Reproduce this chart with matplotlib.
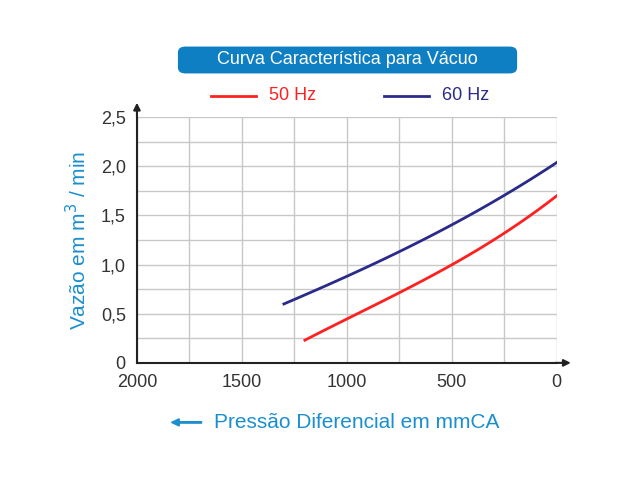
import numpy as np
import matplotlib
matplotlib.use("Agg")
from matplotlib import pyplot as plt
from matplotlib.patches import FancyBboxPatch, FancyArrow

plt.rcParams['font.family'] = ['Liberation Sans', 'DejaVu Sans']

# data
x50 = [1200, 1000, 750, 500, 250, 0]
y50 = [0.23, 0.45, 0.71, 1.00, 1.32, 1.70]
x60 = [1300, 1000, 750, 500, 250, 0]
y60 = [0.60, 0.88, 1.13, 1.41, 1.70, 2.04]
xticks = [2000, 1500, 1000, 500, 0]
yticks = [0, 0.5, 1.0, 1.5, 2.0, 2.5]
ylabels = ["0", "0,5", "1,0", "1,5", "2,0", "2,5"]

blue = "#1a8fd0"
fig = plt.figure(figsize=(6.4, 4.8), dpi=100)
ax = fig.add_axes([0.214, 0.244, 0.656, 0.512])

def smooth(x, y):
    xs = np.linspace(x[0], x[-1], 100)
    c = np.polyfit(x, y, 3)
    return xs, np.polyval(c, xs)

ax.plot(*smooth(x50, y50), color="#ff2020", lw=2)
ax.plot(*smooth(x60, y60), color="#2a2a8a", lw=2)

ax.set_xlim(2000, 0)
ax.set_ylim(0, 2.5)
ax.set_xticks(np.arange(0, 2001, 250), minor=True)
ax.set_yticks(np.arange(0, 2.51, 0.25), minor=True)
ax.set_xticks(xticks)
ax.set_yticks(yticks)
ax.set_yticklabels(ylabels)
ax.grid(which="both", color="#c8c8c8", lw=1)
ax.tick_params(which="both", length=0, labelsize=13, colors="#333333", pad=8)
for s in ["top", "right"]:
    ax.spines[s].set_visible(False)
for s in ["left", "bottom"]:
    ax.spines[s].set_color("#222222")
    ax.spines[s].set_linewidth(1.5)
ax.annotate("", xy=(0, 1.07), xytext=(0, 0.99), xycoords="axes fraction",
            arrowprops=dict(arrowstyle="-|>", color="#222222", lw=1.5))
ax.annotate("", xy=(1.04, 0), xytext=(0.99, 0), xycoords="axes fraction",
            arrowprops=dict(arrowstyle="-|>", color="#222222", lw=1.5))

ax.set_ylabel("Vazão em m$^3$ / min", color=blue, fontsize=15, labelpad=8)

fig.add_artist(FancyBboxPatch((0.278, 0.847), 0.53, 0.056, transform=fig.transFigure,
                              boxstyle="round,pad=0,rounding_size=0.012",
                              fc="#0f7fc4", ec="none"))
fig.text(0.543, 0.875, "Curva Característica para Vácuo", ha="center", va="center",
         color="white", fontsize=13)

fig.add_artist(plt.Line2D([0.33, 0.40], [0.80, 0.80], color="#ff2020", lw=2))
fig.text(0.42, 0.80, "50 Hz", color="#ff2020", fontsize=13, va="center")
fig.add_artist(plt.Line2D([0.60, 0.67], [0.80, 0.80], color="#2a2a8a", lw=2))
fig.text(0.69, 0.80, "60 Hz", color="#2a2a8a", fontsize=13, va="center")

fig.add_artist(FancyArrow(0.315, 0.12, -0.035, 0, width=0.003,
               head_width=0.015, head_length=0.012, color=blue, transform=fig.transFigure))
fig.text(0.335, 0.12, "Pressão Diferencial em mmCA", color=blue, fontsize=15, va="center")

fig.savefig("out.png")
